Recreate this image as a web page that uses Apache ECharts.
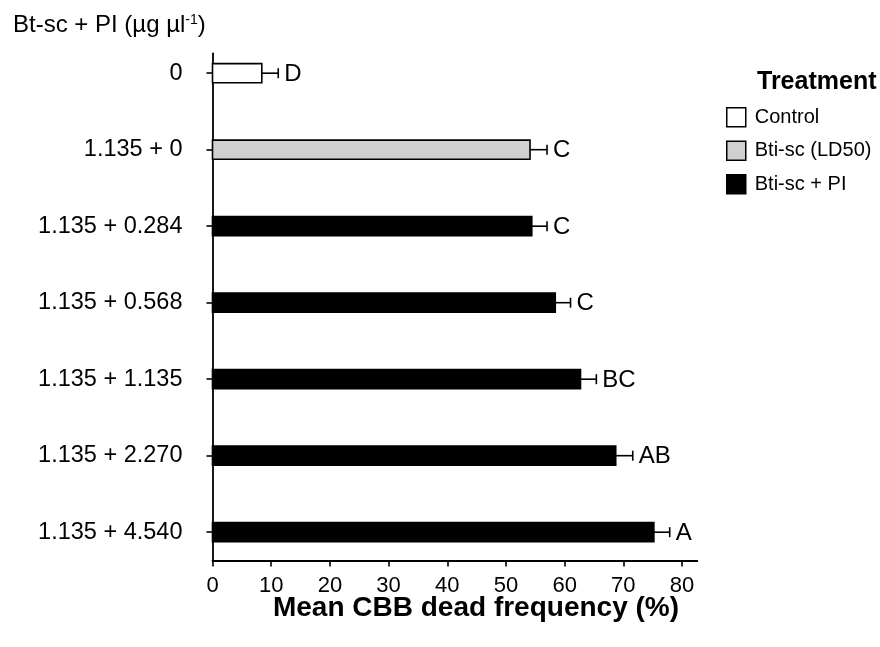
<!DOCTYPE html>
<html><head><meta charset="utf-8">
<script src="https://cdn.jsdelivr.net/npm/echarts@6/dist/echarts.min.js"></script>
<style>html,body{margin:0;padding:0;background:#fff}#c{width:880px;height:647px}</style>
</head><body><div id="c"></div>
<script>
const categories = ['0','1.135 + 0','1.135 + 0.284','1.135 + 0.568','1.135 + 1.135','1.135 + 2.270','1.135 + 4.540'];
const means = [8.4, 54.1, 54.4, 58.4, 62.7, 68.7, 75.2];
const errors = [2.8, 2.9, 2.6, 2.6, 2.7, 2.9, 2.7];
const letters = ['D','C','C','C','BC','AB','A'];
const groups = ['Control','Bti-sc (LD50)','Bti-sc + PI','Bti-sc + PI','Bti-sc + PI','Bti-sc + PI','Bti-sc + PI'];
const groupNames = ['Control','Bti-sc (LD50)','Bti-sc + PI'];
const groupColors = ['#ffffff','#d0d0d0','#000000'];
const xTicks = [0,10,20,30,40,50,60,70,80];
const rowIdx = [0,1,2,3,4,5,6];

const SANS = '"Liberation Sans",Arial,sans-serif';

function renderItem(params, api){
  const idx = api.value(0), v = api.value(1), e = api.value(2);
  const p0 = api.coord([0, idx]);
  const p1 = api.coord([v, idx]);
  const p2 = api.coord([v + e, idx]);
  const h = api.size([0, 1])[1] * 0.25;
  return {type:'group', children:[
    {type:'rect', shape:{x:p0[0], y:p0[1]-h/2, width:p1[0]-p0[0], height:h},
      style:{fill:api.visual('color'), stroke:'#000', lineWidth:1.6}},
    {type:'line', shape:{x1:p1[0], y1:p1[1], x2:p2[0], y2:p2[1]}, style:{stroke:'#000', lineWidth:1.6}},
    {type:'line', shape:{x1:p2[0], y1:p2[1]-5, x2:p2[0], y2:p2[1]+5}, style:{stroke:'#000', lineWidth:1.6}},
    {type:'text', style:{x:p2[0]+6, y:p2[1]+1, text:letters[idx], fill:'#000',
      font:'24px ' + SANS, verticalAlign:'middle', align:'left'}}
  ]};
}

const series = groupNames.map((g, gi) => ({
  name: g,
  type: 'custom',
  renderItem: renderItem,
  itemStyle: {color: groupColors[gi]},
  encode: {x: 1, y: 0},
  data: rowIdx.filter(i => groups[i] === g).map(i => [i, means[i], errors[i]])
}));

const chart = echarts.init(document.getElementById('c'));
chart.setOption({
  animation: false,
  backgroundColor: '#fff',
  title: [
    {text: 'Bt-sc + PI (µg µl{sup|-1})', left: 13, top: 13, padding: 0,
      textStyle: {fontFamily: SANS, fontSize: 24, fontWeight: 'normal', color: '#000',
        rich: {sup: {fontFamily: SANS, fontSize: 14, color: '#000', verticalAlign: 'top', padding: [0, 0, 10, 0]}}}},
    {text: 'Mean CBB dead frequency (%)', left: 476, top: 594, textAlign: 'center', padding: 0,
      textStyle: {fontFamily: SANS, fontSize: 28, fontWeight: 'bold', color: '#000'}},
    {text: 'Treatment', left: 757, top: 70, padding: 0,
      textStyle: {fontFamily: SANS, fontSize: 25, fontWeight: 'bold', color: '#000'}}
  ],
  legend: {
    orient: 'vertical', left: 726, top: 107, padding: 0, itemWidth: 19, itemHeight: 19, itemGap: 13,
    icon: 'rect',
    itemStyle: {borderColor: '#000', borderWidth: 1.5},
    textStyle: {fontFamily: SANS, fontSize: 20, color: '#000', lineHeight: 20, padding: [0, 0, 0, 4]},
    data: groupNames
  },
  grid: {left: 212.5, right: 182.7, top: 53.3, bottom: 86.5, containLabel: false},
  xAxis: {
    type: 'value', min: 0, max: 82.6,
    axisLine: {show: true, onZero: false, lineStyle: {color: '#000', width: 1.8}},
    axisTick: {show: true, length: 6, customValues: xTicks, lineStyle: {color: '#000', width: 1.6}},
    axisLabel: {customValues: xTicks, margin: 14, fontFamily: SANS, fontSize: 22, color: '#000'},
    splitLine: {show: false}
  },
  yAxis: {
    type: 'value', inverse: true, min: -0.26, max: 6.37,
    axisLine: {show: true, onZero: false, lineStyle: {color: '#000', width: 1.8}},
    axisTick: {show: true, length: 6, customValues: rowIdx, lineStyle: {color: '#000', width: 1.6}},
    axisLabel: {customValues: rowIdx, margin: 30, fontFamily: SANS, fontSize: 23.5, color: '#000',
      formatter: v => categories[Math.round(v)]},
    splitLine: {show: false}
  },
  series: series
});
</script></body></html>
